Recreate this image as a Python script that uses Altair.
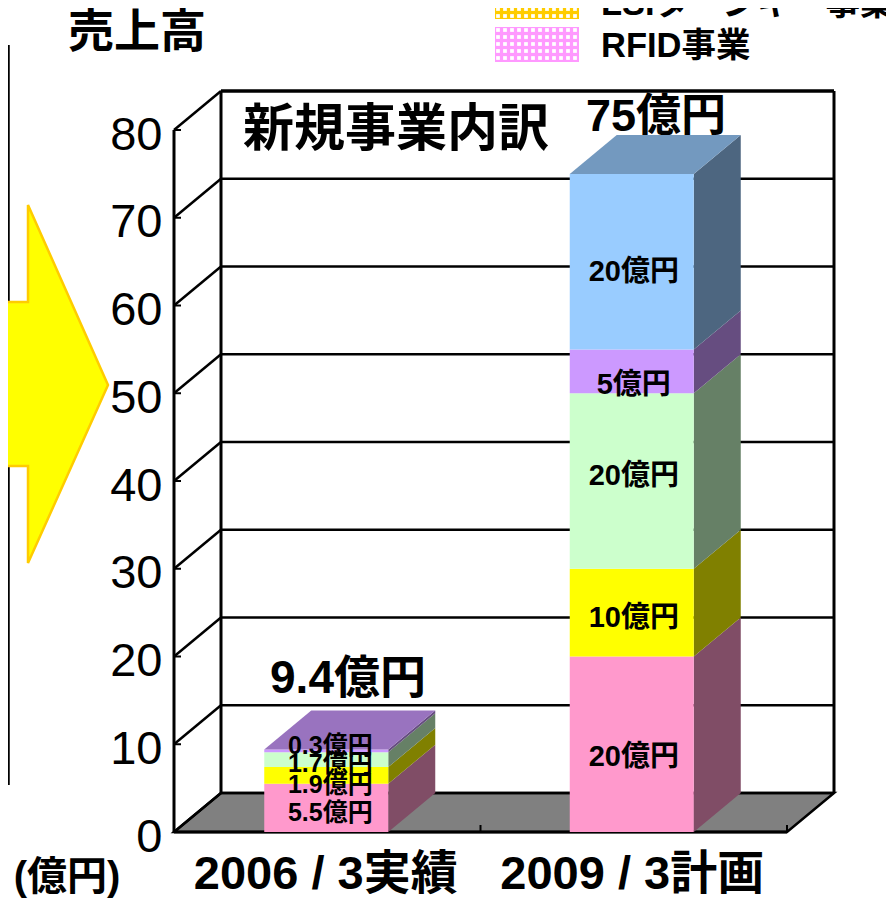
import altair as alt
import pandas as pd

# ---- data ----
categories = ["2006/3実績", "2009/3計画"]
segments = ["RFID", "LSI", "green", "purple", "blue"]
values_2006 = [5.5, 1.9, 1.7, 0.3]
values_2009 = [20, 10, 20, 5, 20]
labels_2006 = ["5.5億円", "1.9億円", "1.7億円", "0.3億円"]
labels_2009 = ["20億円", "10億円", "20億円", "5億円", "20億円"]
totals = ["9.4億円", "75億円"]
y_ticks = [0, 10, 20, 30, 40, 50, 60, 70, 80]

# ---- styles / layout ----
front = {"RFID": "#FF99CC", "LSI": "#FFFF00", "green": "#CCFFCC", "purple": "#CC99FF", "blue": "#99CCFF"}
side = {"RFID": "#804D66", "LSI": "#808000", "green": "#668066", "purple": "#664D80", "blue": "#4D6680"}
top = {"purple": "#9973BF", "blue": "#7399BF"}
nudge_2006 = [13.6, 17.6, 12.4, 3]
nudge_2009 = [22, 14, 4, 23, 19]
FB = "Liberation Sans, 'Noto Sans CJK JP'"
W, H = 878, 891
PX_U = 8.775
PX_S = 306.5
X0, Y0 = 174, 832
DX, DY = 47 / PX_S, 39 / PX_U
BAR = 124 / PX_S


def xv(px):
    return (px - X0) / PX_S


def yv(px):
    return (Y0 - px) / PX_U


sx = alt.Scale(domain=[xv(8), xv(8 + W)], nice=False, zero=False)
sy = alt.Scale(domain=[yv(8 + H), yv(8)], nice=False, zero=False)
X = alt.X("x:Q", scale=sx, title=None, axis=alt.Axis(
    values=[0.5, 1.5], offset=-(8 + H - Y0), domain=False, ticks=False, grid=False,
    labelExpr="datum.value < 1 ? '2006 / 3実績' : '2009 / 3計画'",
    labelFont=FB, labelFontWeight="bold", labelFontSize=47, labelColor="black", labelPadding=19,
    labelLimit=1000, labelOffset=-2, labelOverlap=False, labelFlush=False, labelBound=False))
Y = alt.Y("y:Q", scale=sy, title=None, axis=alt.Axis(
    values=y_ticks, offset=-(X0 - 8), domain=False, ticks=False, grid=False,
    labelFont="Liberation Sans", labelFontSize=47, labelColor="black", labelPadding=12,
    labelOffset=5, labelOverlap=False, labelFlush=False, labelBound=False))

rects, sides, tops, labels_a, labels_b = [], [], [], [], []
for i, (vals, labs, nud) in enumerate([(values_2006, labels_2006, nudge_2006), (values_2009, labels_2009, nudge_2009)]):
    x0 = i + 0.5 - BAR / 2 + ((-1 if i == 0 else -2) / PX_S)
    x1 = x0 + BAR
    cum = 0
    sink = labels_a if i == 0 else labels_b
    for s, v, l, n in zip(segments, vals, labs, nud):
        lo, hi = cum, cum + v
        rects.append({"x": x0, "x2": x1, "y": lo, "y2": hi, "c": front[s]})
        key = f"{i}{s}"
        sides.append({"k": key, "x": x1, "y": lo, "y2": hi, "c": side[s]})
        sides.append({"k": key, "x": x1 + DX, "y": lo + DY, "y2": hi + DY, "c": side[s]})
        sink.append({"x": x0 + BAR / 2 + (4 if i == 0 else 2) / PX_S, "y": (lo + hi) / 2 - n / PX_U, "t": l})
        cum = hi
    s = segments[len(vals) - 1]
    tops += [
        {"k": f"t{i}", "x": x0, "y": cum, "y2": cum, "c": top[s]},
        {"k": f"t{i}", "x": x0 + DX, "y": cum, "y2": cum + DY, "c": top[s]},
        {"k": f"t{i}", "x": x1, "y": cum, "y2": cum + DY, "c": top[s]},
        {"k": f"t{i}", "x": x1 + DX, "y": cum + DY, "y2": cum + DY, "c": top[s]},
    ]


def rule(rows, width=2.5, color="black"):
    return alt.Chart(pd.DataFrame(rows)).mark_rule(strokeWidth=width, color=color).encode(
        x=X, x2="x2:Q", y=Y, y2="y2:Q")


def text(rows, font=FB, weight="bold", size=29, align="center"):
    return alt.Chart(pd.DataFrame(rows)).mark_text(
        font=font, fontWeight=weight, fontSize=size, align=align, baseline="alphabetic", color="black"
    ).encode(x=X, y=Y, text="t:N")


def area(rows):
    return alt.Chart(pd.DataFrame(rows)).mark_area(strokeWidth=0).encode(
        x=X, y=Y, y2="y2:Q", detail="k:N", color=alt.Color("c:N", scale=None))


# walls and floor
floor = alt.Chart(pd.DataFrame([
    {"k": "f", "x": 0, "y": 0, "y2": 0},
    {"k": "f", "x": DX, "y": 0, "y2": DY},
    {"k": "f", "x": 2, "y": 0, "y2": DY},
    {"k": "f", "x": 2 + DX, "y": DY, "y2": DY},
])).mark_area(color="#808080", stroke="black", strokeWidth=2.5).encode(x=X, y=Y, y2="y2:Q", detail="k:N")

grid = rule([{"x": DX, "x2": 2 + DX, "y": t + DY, "y2": t + DY} for t in y_ticks[:-1]], 2.5)
grid_top = rule([{"x": DX, "x2": 2 + DX, "y": 80 + DY, "y2": 80 + DY}], 3.5)
wall = rule([{"x": 0, "x2": DX, "y": t, "y2": t + DY} for t in y_ticks], 2.5)
verts = rule([
    {"x": 0, "x2": 0, "y": 0, "y2": 80},
    {"x": DX, "x2": DX, "y": DY, "y2": 80 + DY},
    {"x": 2 + DX, "x2": 2 + DX, "y": DY, "y2": 80 + DY},
], 3)
bottom = rule([{"x": 0, "x2": 2, "y": 0, "y2": 0}], 3)
tick_l = rule([{"x": 0, "x2": 7 / PX_S, "y": t, "y2": t} for t in y_ticks], 2)
tick_b = rule([{"x": c, "x2": c, "y": 0, "y2": 7 / PX_U} for c in (1, 2)], 2)

bars = alt.Chart(pd.DataFrame(rects)).mark_rect().encode(
    x=X, x2="x2:Q", y=Y, y2="y2:Q", color=alt.Color("c:N", scale=None))

# block arrow from the neighbouring panel
arrow = alt.Chart(pd.DataFrame([
    {"k": "a", "x": xv(-30), "y": yv(302), "y2": yv(466)},
    {"k": "a", "x": xv(28), "y": yv(302), "y2": yv(466)},
    {"k": "a", "x": xv(28), "y": yv(205), "y2": yv(563)},
    {"k": "a", "x": xv(108), "y": yv(385), "y2": yv(385)},
])).mark_area(color="#FFFF00", stroke="#FFCC00", strokeWidth=2.5).encode(x=X, y=Y, y2="y2:Q", detail="k:N")
left_panel = rule([{"x": xv(8.5), "x2": xv(8.5), "y": yv(45), "y2": yv(785)}], 2.5)

# legend swatches
swatch_rows = [
    {"x": xv(495), "x2": xv(579), "y": yv(-5), "y2": yv(19), "c": "#FFCC00"},
    {"x": xv(495), "x2": xv(579), "y": yv(27), "y2": yv(62), "c": "#FF99FF"},
]
swatches = alt.Chart(pd.DataFrame(swatch_rows)).mark_rect().encode(
    x=X, x2="x2:Q", y=Y, y2="y2:Q", color=alt.Color("c:N", scale=None))
dots = [{"x": xv(498 + 7 * a), "y": yv(b)} for a in range(12)
        for b in list(range(2, 19, 7)) + list(range(30, 62, 7))]
swatch_dots = alt.Chart(pd.DataFrame(dots)).mark_point(
    shape="square", filled=True, color="white", size=14, opacity=1).encode(x=X, y=Y)

legend_text = text([
    {"x": xv(601), "y": yv(15), "t": "LSIターンキー事業"},
    {"x": xv(601), "y": yv(57), "t": "RFID事業"},
], size=34.5, align="left")

seg_text_a = text(labels_a, size=25)
seg_text_b = text(labels_b, size=29)
total_text_a = text([{"x": xv(348), "y": yv(693), "t": totals[0]}], size=46)
total_text_b = text([{"x": xv(656), "y": yv(131), "t": totals[1]}], size=45)
head = text([{"x": xv(137), "y": yv(47), "t": "売上高"}], size=46)
sub = text([{"x": xv(396), "y": yv(146), "t": "新規事業内訳"}], size=51)
unit = text([{"x": xv(67), "y": yv(890), "t": "(億円)"}], size=40)

chart = alt.layer(
    left_panel, arrow, floor, grid, grid_top, wall, verts, bottom, tick_l, tick_b,
    area(sides), bars, area(tops), swatches, swatch_dots,
    legend_text, seg_text_a, seg_text_b, total_text_a, total_text_b, head, sub, unit,
).properties(width=W, height=H, padding=0, autosize=alt.AutoSizeParams(type="none")).configure_view(stroke=None)

chart.save("out.html", embed_options={"renderer": "svg", "actions": False})
